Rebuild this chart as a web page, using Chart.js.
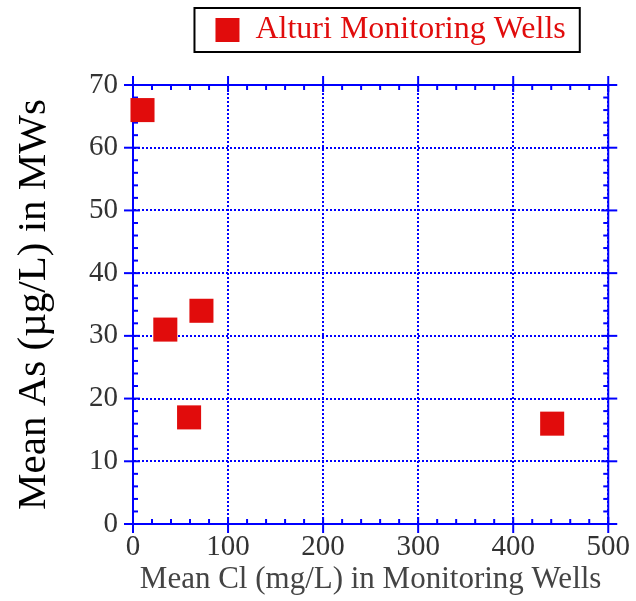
<!DOCTYPE html>
<html>
<head>
<meta charset="utf-8">
<script src="https://cdn.jsdelivr.net/npm/chart.js@4.4.1/dist/chart.umd.min.js"></script>
<style>
  html, body { margin: 0; padding: 0; background: #fff; }
</style>
</head>
<body>
<canvas id="chartCanvas" width="636" height="601"></canvas>
<script>
// data
const seriesName = "Alturi Monitoring Wells";
const meanCl = [10, 34, 59, 72, 441];   // mg/L
const meanAs = [66, 31, 17, 34, 16];    // ug/L
const xRange = [0, 500];
const yRange = [0, 70];
const xMajor = 100, xMinor = 20;
const yMajor = 10, yMinor = 2;

const BLUE = "#0000ff";
const RED = "#e10c0c";
const FONT = "'Liberation Serif', 'Times New Roman', serif";

const points = meanCl.map((x, i) => ({ x, y: meanAs[i] }));

// box round the plot plus tick marks on all four sides, frame round the legend
const frameTicks = {
  id: "frameTicks",
  afterLayout(chart) {
    // legend sits a little right of the plot centre in the original
    const lg = chart.legend;
    if (lg) { lg.left += 20; lg.right += 20; }
  },
  beforeDatasetsDraw(chart) {
    const { ctx, chartArea: a, scales: { x, y } } = chart;
    const seg = (x1, y1, x2, y2) => { ctx.beginPath(); ctx.moveTo(x1, y1); ctx.lineTo(x2, y2); ctx.stroke(); };
    ctx.save();
    ctx.strokeStyle = BLUE;
    ctx.lineWidth = 2;
    ctx.strokeRect(a.left, a.top, a.right - a.left, a.bottom - a.top);
    for (let v = x.min; v <= x.max + 1e-6; v += xMinor) {
      const px = x.getPixelForValue(v);
      const major = Math.abs(v % xMajor) < 1e-6;
      const out = major ? 9 : 0, inn = major ? 7 : 5;
      seg(px, a.bottom + out, px, a.bottom - inn);
      seg(px, a.top - out, px, a.top + inn);
    }
    for (let v = y.min; v <= y.max + 1e-6; v += yMinor) {
      const py = y.getPixelForValue(v);
      const major = Math.abs(v % yMajor) < 1e-6;
      const out = major ? 9 : 0, inn = major ? 7 : 5;
      seg(a.left - out, py, a.left + inn, py);
      seg(a.right + out, py, a.right - inn, py);
    }
    ctx.restore();
  },
  afterDraw(chart) {
    const hb = chart.legend && chart.legend.legendHitBoxes && chart.legend.legendHitBoxes[0];
    if (!hb) return;
    const { ctx } = chart;
    ctx.save();
    ctx.strokeStyle = "#000";
    ctx.lineWidth = 2;
    ctx.strokeRect(hb.left - 21, hb.top - 6, hb.width + 35, hb.height + 12);
    ctx.restore();
  }
};

new Chart(document.getElementById("chartCanvas"), {
  type: "scatter",
  data: {
    datasets: [{
      label: seriesName,
      data: points,
      pointStyle: "rect",
      pointRadius: 17,
      pointHoverRadius: 17,
      backgroundColor: RED,
      borderColor: RED,
      borderWidth: 0,
      clip: false,
    }],
  },
  options: {
    responsive: false,
    animation: false,
    layout: { padding: { top: 0, right: 26, left: 0, bottom: 0 } },
    plugins: {
      tooltip: { enabled: false },
      legend: {
        position: "top",
        align: "center",
        fullSize: false,
        labels: {
          boxWidth: 24,
          boxHeight: 24,
          padding: 14,
          color: RED,
          font: { family: FONT, size: 32 },
        },
      },
    },
    scales: {
      x: {
        type: "linear",
        min: xRange[0],
        max: xRange[1],
        afterFit: (s) => { s.height = 77; },
        ticks: { stepSize: xMajor, color: "#333", padding: 6, font: { family: FONT, size: 29 } },
        grid: { color: BLUE, lineWidth: 2, drawTicks: false },
        border: { display: true, color: BLUE, width: 2, dash: [2, 2] },
        title: {
          display: true,
          text: "Mean Cl (mg/L) in Monitoring Wells",
          color: "#444",
          font: { family: FONT, size: 31 },
          padding: { top: 0, bottom: 3 },
        },
      },
      xTop: {
        type: "linear",
        position: "top",
        min: xRange[0],
        max: xRange[1],
        afterFit: (s) => { s.height = 29; },
        ticks: { display: false },
        grid: { display: false, drawTicks: false },
        border: { display: false },
      },
      y: {
        type: "linear",
        min: yRange[0],
        max: yRange[1],
        afterFit: (s) => { s.width = 133; },
        ticks: { stepSize: yMajor, color: "#333", padding: 15, font: { family: FONT, size: 29 } },
        grid: { color: BLUE, lineWidth: 2, drawTicks: false },
        border: { display: true, color: BLUE, width: 2, dash: [2, 2] },
        title: {
          display: true,
          text: "Mean As (µg/L) in MWs",
          color: "#000",
          font: { family: FONT, size: 41 },
          padding: { top: 10, bottom: 0 },
        },
      },
    },
  },
  plugins: [frameTicks],
});
</script>
</body>
</html>
